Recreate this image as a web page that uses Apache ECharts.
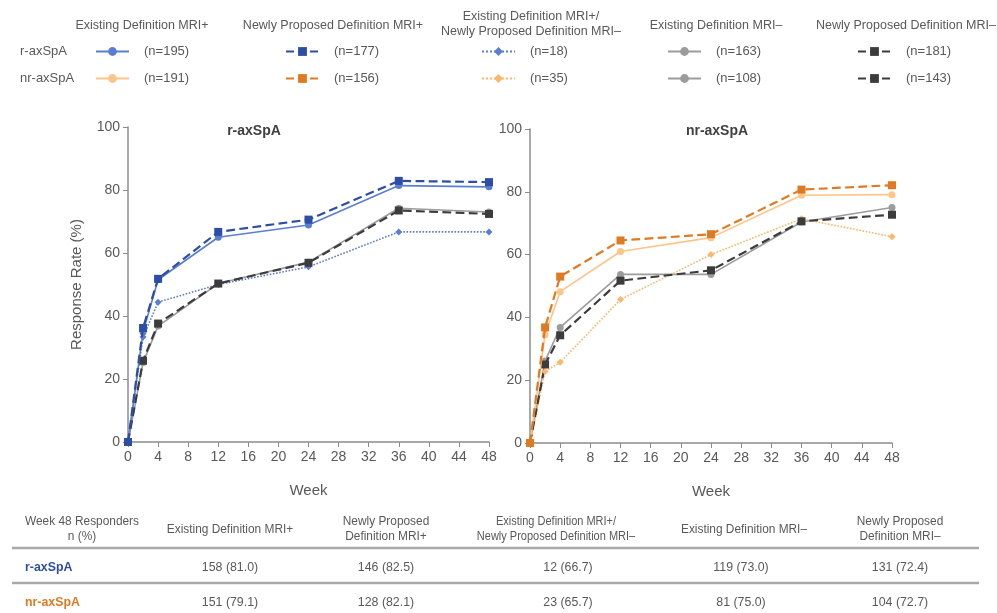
<!DOCTYPE html>
<html><head><meta charset="utf-8">
<script src="https://cdn.jsdelivr.net/npm/echarts@6/dist/echarts.min.js"></script>
<style>html,body{margin:0;padding:0;background:#fff}#c{width:997px;height:613px}</style>
</head><body><div id="c"></div>
<script>
// ---- data ----
const weeks = [0, 2, 4, 12, 24, 36, 48];
const rExistingPlus  = [0, 34.9, 51.5, 65.0, 68.9, 81.4, 81.0];
const rNewlyPlus     = [0, 36.2, 51.8, 66.7, 70.6, 82.9, 82.5];
const rMixed         = [0, 33.3, 44.4, 50.0, 55.6, 66.7, 66.7];
const rExistingMinus = [0, 25.2, 36.8, 50.3, 57.1, 74.2, 73.0];
const rNewlyMinus    = [0, 25.8, 37.6, 50.3, 56.9, 73.5, 72.4];
const nrExistingPlus  = [0, 34.5, 48.2, 61.0, 65.4, 78.9, 79.1];
const nrNewlyPlus     = [0, 36.8, 53.0, 64.5, 66.5, 80.7, 82.1];
const nrMixed         = [0, 22.8, 25.7, 45.7, 60.0, 71.4, 65.7];
const nrExistingMinus = [0, 26.1, 36.8, 53.7, 53.7, 70.4, 75.0];
const nrNewlyMinus    = [0, 25.0, 34.3, 51.7, 55.0, 70.6, 72.7];
const groupNames = ['Existing Definition MRI+', 'Newly Proposed Definition MRI+', 'Existing Definition MRI+/\nNewly Proposed Definition MRI–', 'Existing Definition MRI–', 'Newly Proposed Definition MRI–'];
const rN  = ['(n=195)', '(n=177)', '(n=18)', '(n=163)', '(n=181)'];
const nrN = ['(n=191)', '(n=156)', '(n=35)', '(n=108)', '(n=143)'];
const tableCorner = 'Week 48 Responders\nn (%)';
const tableHeaders = ['Existing Definition MRI+', 'Newly Proposed\nDefinition MRI+', 'Existing Definition MRI+/\nNewly Proposed Definition MRI–', 'Existing Definition MRI–', 'Newly Proposed\nDefinition MRI–'];
const rResponders  = ['158 (81.0)', '146 (82.5)', '12 (66.7)', '119 (73.0)', '131 (72.4)'];
const nrResponders = ['151 (79.1)', '128 (82.1)', '23 (65.7)', '81 (75.0)', '104 (72.7)'];

// ---- styles ----
const FONT = '"Liberation Sans", Arial, sans-serif';
const TXT = '#595959';
const styles = [
  {type:'solid',  symbol:'circle',  size:7, width:1.6},
  {type:'dashed', symbol:'rect',    size:8, width:2.2},
  {type:'dotted', symbol:'diamond', size:7, width:1.6},
  {type:'solid',  symbol:'circle',  size:7, width:1.6},
  {type:'dashed', symbol:'rect',    size:8, width:2.2}
];
const rColors  = ['#5A7ED0', '#2D4DA6', '#5A7ED0', '#9C9C9C', '#3C3C3C'];
const nrColors = ['#FFC488', '#E07A22', '#FFB56A', '#9C9C9C', '#3C3C3C'];
const rSets  = [rExistingPlus, rNewlyPlus, rMixed, rExistingMinus, rNewlyMinus];
const nrSets = [nrExistingPlus, nrNewlyPlus, nrMixed, nrExistingMinus, nrNewlyMinus];
const rNames  = ['r1','r2','r3','r4','r5'];
const nrNames = ['n1','n2','n3','n4','n5'];
const zOrder = [3, 4, 2, 1, 2];

function mkSeries(names, sets, colors, idx) {
  return names.map((nm, i) => ({
    name: nm, type: 'line', xAxisIndex: idx, yAxisIndex: idx,
    data: weeks.map((w, j) => [w, sets[i][j]]),
    symbol: styles[i].symbol, symbolSize: styles[i].size, showSymbol: true,
    z: zOrder[i],
    lineStyle: {color: colors[i], type: styles[i].type, width: styles[i].width},
    itemStyle: {color: colors[i]},
    emphasis: {disabled: true}, animation: false
  }));
}

function xAx(idx) {
  return {type:'value', gridIndex: idx, min:0, max:48, interval:4, name:'Week', nameLocation:'middle', nameGap:41,
    nameTextStyle:{color:TXT, fontSize:15, fontFamily:FONT},
    axisLine:{lineStyle:{color:'#8C8C8C', width:1.5}}, axisTick:{show:true, length:5, lineStyle:{color:'#8C8C8C'}},
    axisLabel:{color:TXT, fontSize:14, fontFamily:FONT, margin:8}, splitLine:{show:false}};
}
function yAx(idx, withName) {
  return {type:'value', gridIndex: idx, min:0, max:100, interval:20,
    name: withName ? 'Response Rate (%)' : '', nameLocation:'middle', nameGap:44,
    nameTextStyle:{color:TXT, fontSize:15, fontFamily:FONT},
    axisLine:{show:true, lineStyle:{color:'#8C8C8C', width:1.5}}, axisTick:{show:true, length:5, lineStyle:{color:'#8C8C8C'}},
    axisLabel:{color:TXT, fontSize:14, fontFamily:FONT, margin:8}, splitLine:{show:false}};
}

const legendLeft = [95, 285, 481, 667, 857];
const legends = [];
[[rNames, rN, 45], [nrNames, nrN, 72]].forEach(([names, labels, top]) => {
  names.forEach((nm, i) => {
    legends.push({left: legendLeft[i], top: top, padding: 0, itemWidth: 33, itemHeight: 11,
      data: [nm], selectedMode: false, formatter: () => labels[i],
      textStyle: {color: TXT, fontSize: 13, fontFamily: FONT, padding: [0, 0, 0, 10]}});
  });
});

const graphics = [];
function txt(x, y, s, opts) {
  opts = opts || {};
  graphics.push({type:'text', x: x, y: y, scaleX: opts.sx || 1,
    style:{text: s, fill: opts.fill || TXT, font: (opts.weight || '') + ' ' + (opts.size || 13) + 'px ' + FONT,
      textAlign: opts.align || 'center', textVerticalAlign: 'middle', lineHeight: 15}});
}
const headerCenters = [142, 333, 531, 716, 906];
groupNames.forEach((g, i) => txt(headerCenters[i], g.includes('\n') ? 24.5 : 26, g, {size: 12.5}));
txt(20, 51, 'r-axSpA', {align: 'left'});
txt(20, 78, 'nr-axSpA', {align: 'left'});

// table
const headCenters = [230, 386, 556, 744, 900];
const valCenters = [230, 386, 568, 741, 900];
txt(82, 529.5, tableCorner, {size: 12.5, sx: 0.95});
tableHeaders.forEach((h, i) => txt(headCenters[i], 529.5, h, {size: 12.5, sx: h.includes('MRI+/') ? 0.88 : 0.95}));
graphics.push({type:'line', shape:{x1:12, y1:548, x2:979, y2:548}, style:{stroke:'#A9A9A9', lineWidth:2.5}});
graphics.push({type:'line', shape:{x1:12, y1:583, x2:979, y2:583}, style:{stroke:'#A9A9A9', lineWidth:2.5}});
txt(25, 567, 'r-axSpA', {align: 'left', weight: 'bold', fill: '#2D4DA6', sx: 0.95});
txt(25, 602, 'nr-axSpA', {align: 'left', weight: 'bold', fill: '#E07A22', sx: 0.95});
rResponders.forEach((v, i) => txt(valCenters[i], 567, v, {size: 13, sx: 0.95}));
nrResponders.forEach((v, i) => txt(valCenters[i], 602, v, {size: 13, sx: 0.95}));

const chart = echarts.init(document.getElementById('c'), null, {renderer:'canvas'});
chart.setOption({
  backgroundColor:'#fff',
  animation:false,
  title: [
    {text:'r-axSpA', left: 249, top: 119, textAlign:'center', textStyle:{color:'#404040', fontSize:14, fontWeight:'bold', fontFamily:FONT}},
    {text:'nr-axSpA', left: 712, top: 119, textAlign:'center', textStyle:{color:'#404040', fontSize:14, fontWeight:'bold', fontFamily:FONT}}
  ],
  legend: legends,
  grid: [
    {left:128, right:508, top:127, bottom:171},
    {left:530, right:105, top:129, bottom:170}
  ],
  xAxis: [xAx(0), xAx(1)],
  yAxis: [yAx(0, true), yAx(1, false)],
  series: [...mkSeries(rNames, rSets, rColors, 0), ...mkSeries(nrNames, nrSets, nrColors, 1)],
  graphic: graphics
});
</script></body></html>
